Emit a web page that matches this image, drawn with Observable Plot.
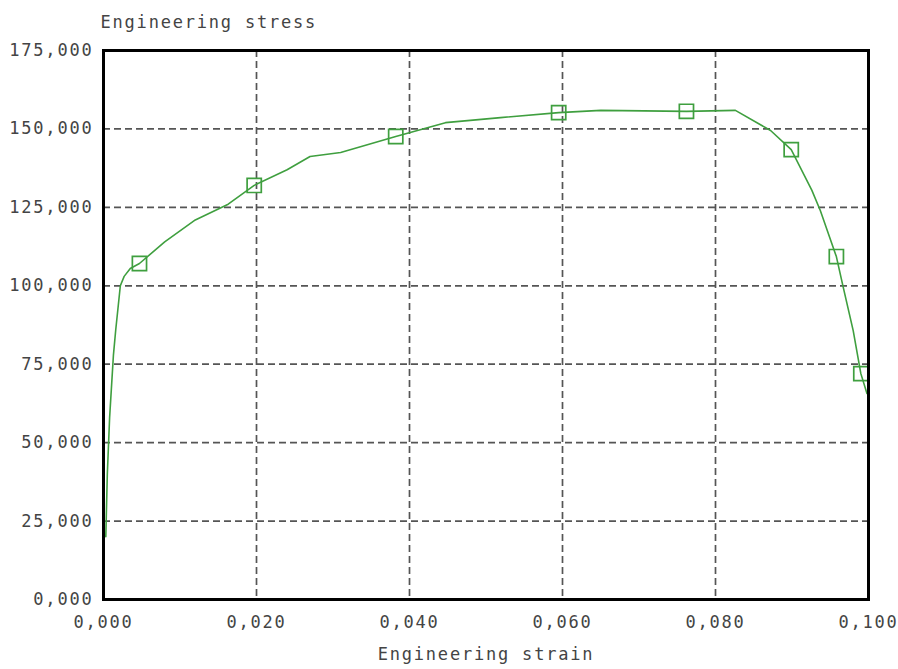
<!DOCTYPE html>
<html>
<head>
<meta charset="utf-8">
<script src="https://cdn.jsdelivr.net/npm/d3@7"></script>
<script src="https://cdn.jsdelivr.net/npm/@observablehq/plot@0.6"></script>
<style>
  html, body { margin: 0; padding: 0; background: #fff; }
</style>
</head>
<body>
<div id="chart"></div>
<script>
// Curve (engineering strain, engineering stress)
const strain = [0.0003, 0.0005, 0.0008, 0.0011, 0.0013, 0.0016, 0.0019, 0.0022, 0.0027, 0.0035, 0.0047,
  0.0080, 0.0120, 0.0163, 0.0197, 0.0240, 0.0270, 0.0310, 0.0382, 0.0447, 0.0519, 0.0595, 0.0650, 0.0762, 0.0826,
  0.0872, 0.0899, 0.0926, 0.0937, 0.0958, 0.0967, 0.0980, 0.0990, 0.0998];
const stress = [20000, 40000, 58000, 70000, 78000, 86000, 93000, 100000, 103000, 105500, 107100,
  114000, 121000, 126000, 132000, 137000, 141200, 142500, 147600, 152000, 153600, 155200, 155900, 155600, 155900,
  149500, 143400, 130400, 124000, 109300, 99500, 85700, 72000, 65700];

// Square markers
const markStrain = [0.0047, 0.0197, 0.0382, 0.0595, 0.0762, 0.0899, 0.0958, 0.0990];
const markStress = [107100, 132000, 147600, 155200, 155600, 143400, 109300, 72000];

// Ticks
const xTicks = [0, 0.02, 0.04, 0.06, 0.08, 0.10];
const xTickLabels = ["0,000", "0,020", "0,040", "0,060", "0,080", "0,100"];
const yTicks = [0, 25000, 50000, 75000, 100000, 125000, 150000, 175000];
const yTickLabels = ["0,000", "25,000", "50,000", "75,000", "100,000", "125,000", "150,000", "175,000"];

const xTitle = "Engineering strain";
const yTitle = "Engineering stress";

const curve = strain.map((s, i) => ({x: s, y: stress[i]}));
const markers = markStrain.map((s, i) => ({x: s, y: markStress[i]}));

const green = "#3f9f3f";
const font = "'DejaVu Sans Mono', monospace";
const textColor = "#444";

const chart = Plot.plot({
  width: 898,
  height: 669,
  marginLeft: 103,
  marginRight: 30,
  marginTop: 50,
  marginBottom: 70,
  style: {fontFamily: font, fontSize: "17px", color: textColor, background: "#fff"},
  x: {domain: [0, 0.1], label: null},
  y: {domain: [0, 175000], label: null},
  marks: [
    Plot.gridX(xTicks, {stroke: "#555", strokeOpacity: 1, strokeWidth: 1.7, strokeDasharray: "7,4"}),
    Plot.gridY(yTicks, {stroke: "#555", strokeOpacity: 1, strokeWidth: 1.7, strokeDasharray: "7,4"}),
    Plot.axisX(xTicks, {tickFormat: (d, i) => xTickLabels[i], tickSize: 0, tickPadding: 16, fill: textColor, label: null}),
    Plot.axisY(yTicks, {tickFormat: (d, i) => yTickLabels[i], tickSize: 0, tickPadding: 10, fill: textColor, label: null}),
    Plot.line(curve, {x: "x", y: "y", stroke: green, strokeWidth: 1.6}),
    Plot.dot(markers, {x: "x", y: "y", symbol: "square", r: 8, stroke: green, strokeWidth: 1.7, fill: "none"}),
    Plot.frame({stroke: "#000", strokeWidth: 3}),
    Plot.text([yTitle], {frameAnchor: "top-left", text: d => d, dx: -3, dy: -35, textAnchor: "start", fill: textColor, fontSize: 17}),
    Plot.text([xTitle], {frameAnchor: "bottom", text: d => d, dy: 60, fill: textColor, fontSize: 17})
  ]
});
chart.querySelectorAll("text").forEach(t => t.setAttribute("letter-spacing", "1.8"));
document.getElementById("chart").appendChild(chart);
</script>
</body>
</html>
